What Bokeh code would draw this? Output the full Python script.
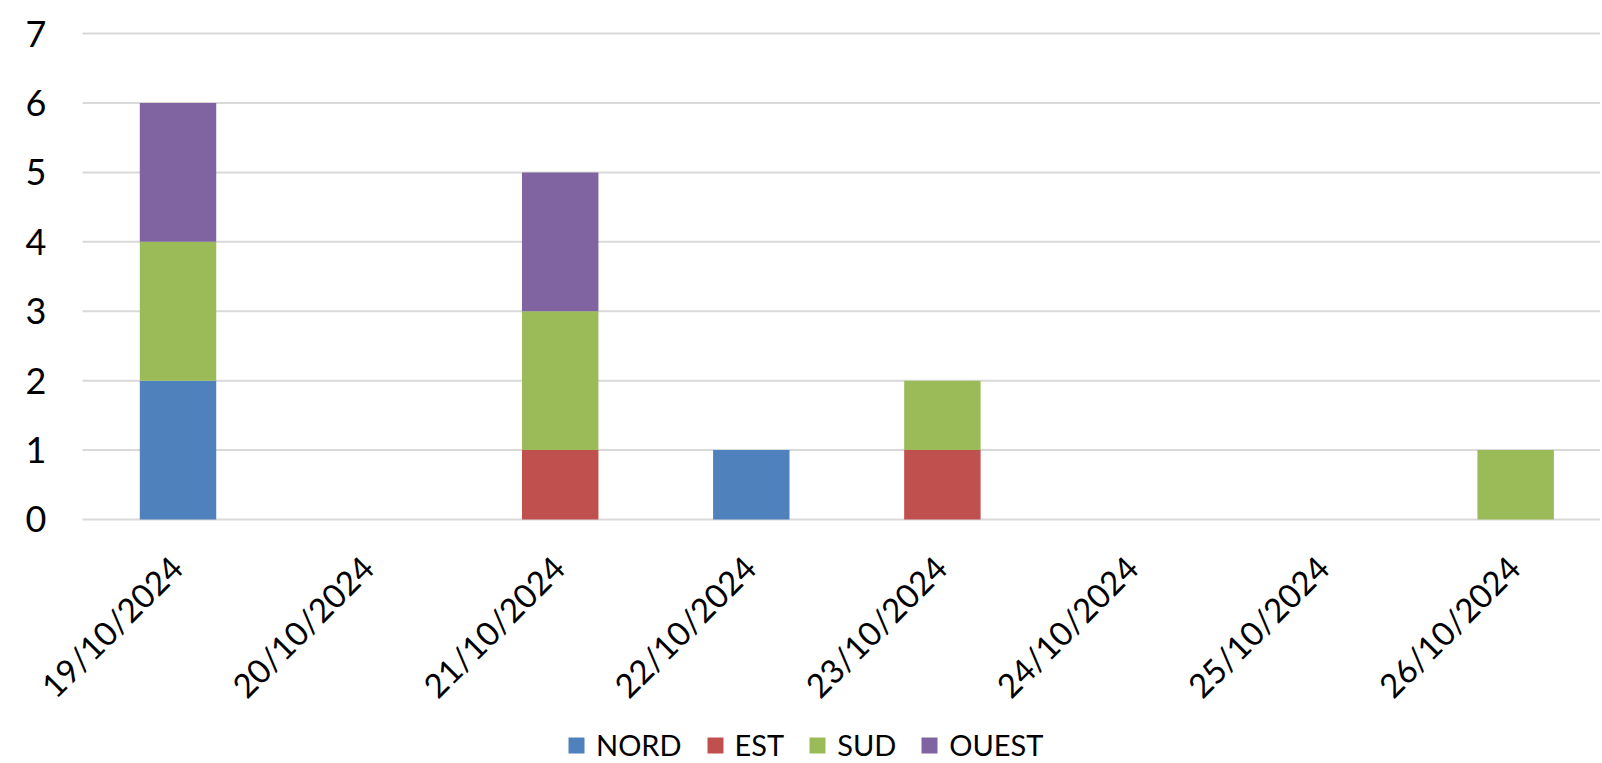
from bokeh.plotting import figure
from bokeh.models import Range1d, Legend, LegendItem, ColumnDataSource
from bokeh.core.properties import value
from bokeh.embed import file_html
from bokeh.resources import INLINE
import math

dates = ["19/10/2024", "20/10/2024", "21/10/2024", "22/10/2024",
         "23/10/2024", "24/10/2024", "25/10/2024", "26/10/2024"]
series = ["NORD", "EST", "SUD", "OUEST"]
nord = [2, 0, 0, 1, 0, 0, 0, 0]
est = [0, 0, 1, 0, 1, 0, 0, 0]
sud = [2, 0, 2, 0, 1, 0, 0, 1]
ouest = [2, 0, 2, 0, 0, 0, 0, 0]
colors = ["#4F81BD", "#C0504D", "#9BBB59", "#8064A2"]
y_ticks = [0, 1, 2, 3, 4, 5, 6, 7]
y_labels = ["0", "1", "2", "3", "4", "5", "6", "7"]

FONT = "Lato"

xs = list(range(len(dates)))
x_left = -0.5                 # left edge of the first category
x_right = len(dates) - 0.5    # right edge of the last category
src = ColumnDataSource(dict(x=xs, NORD=nord, EST=est, SUD=sud, OUEST=ouest))
xlab_src = ColumnDataSource(dict(x=xs, y=[0] * len(dates), text=dates))
ylab_src = ColumnDataSource(dict(x=[x_left] * len(y_ticks), y=y_ticks, text=y_labels))
grid_src = ColumnDataSource(dict(x0=[x_left] * len(y_ticks), x1=[x_right] * len(y_ticks),
                                 y=y_ticks))

# the frame covers the whole picture so that axis texts and legend are not clipped
p = figure(frame_width=1600, frame_height=762, output_backend="svg", toolbar_location=None,
           x_range=Range1d(-0.929, 7.444), y_range=Range1d(-3.501, 7.476),
           x_axis_location=None, y_axis_location=None,
           min_border_left=0, min_border_right=0, min_border_top=0, min_border_bottom=0)

p.outline_line_color = None
p.background_fill_color = "white"
p.border_fill_color = "white"
p.xgrid.visible = False
p.ygrid.visible = False

# horizontal gridlines at the value ticks
p.segment(x0="x0", x1="x1", y0="y", y1="y", source=grid_src,
          line_color="#D9D9D9", line_width=2)

renderers = p.vbar_stack(series, x="x", width=0.4, source=src, color=colors, line_color=None)

# value labels on the left
p.text(x="x", y="y", text="text", source=ylab_src,
       text_align="right", text_baseline="middle", x_offset=-36,
       text_font=value(FONT), text_font_size="36px", text_color="black")

# category labels under the zero line, rotated 45 degrees
p.text(x="x", y="y", text="text", source=xlab_src, angle=math.pi / 4,
       text_align="right", text_baseline="middle", x_offset=-2, y_offset=42,
       text_font=value(FONT), text_font_size="33px", text_color="black")

legend = Legend(items=[LegendItem(label=s, renderers=[r]) for s, r in zip(series, renderers)],
                orientation="horizontal", location=(566, 0),
                glyph_width=20, glyph_height=20, label_standoff=10, spacing=23,
                label_text_font=FONT, label_text_font_size="29px", label_text_color="black",
                border_line_color=None, background_fill_alpha=0,
                margin=0, padding=0)
p.add_layout(legend, "center")

open("out.html", "w").write(file_html(p, INLINE))
